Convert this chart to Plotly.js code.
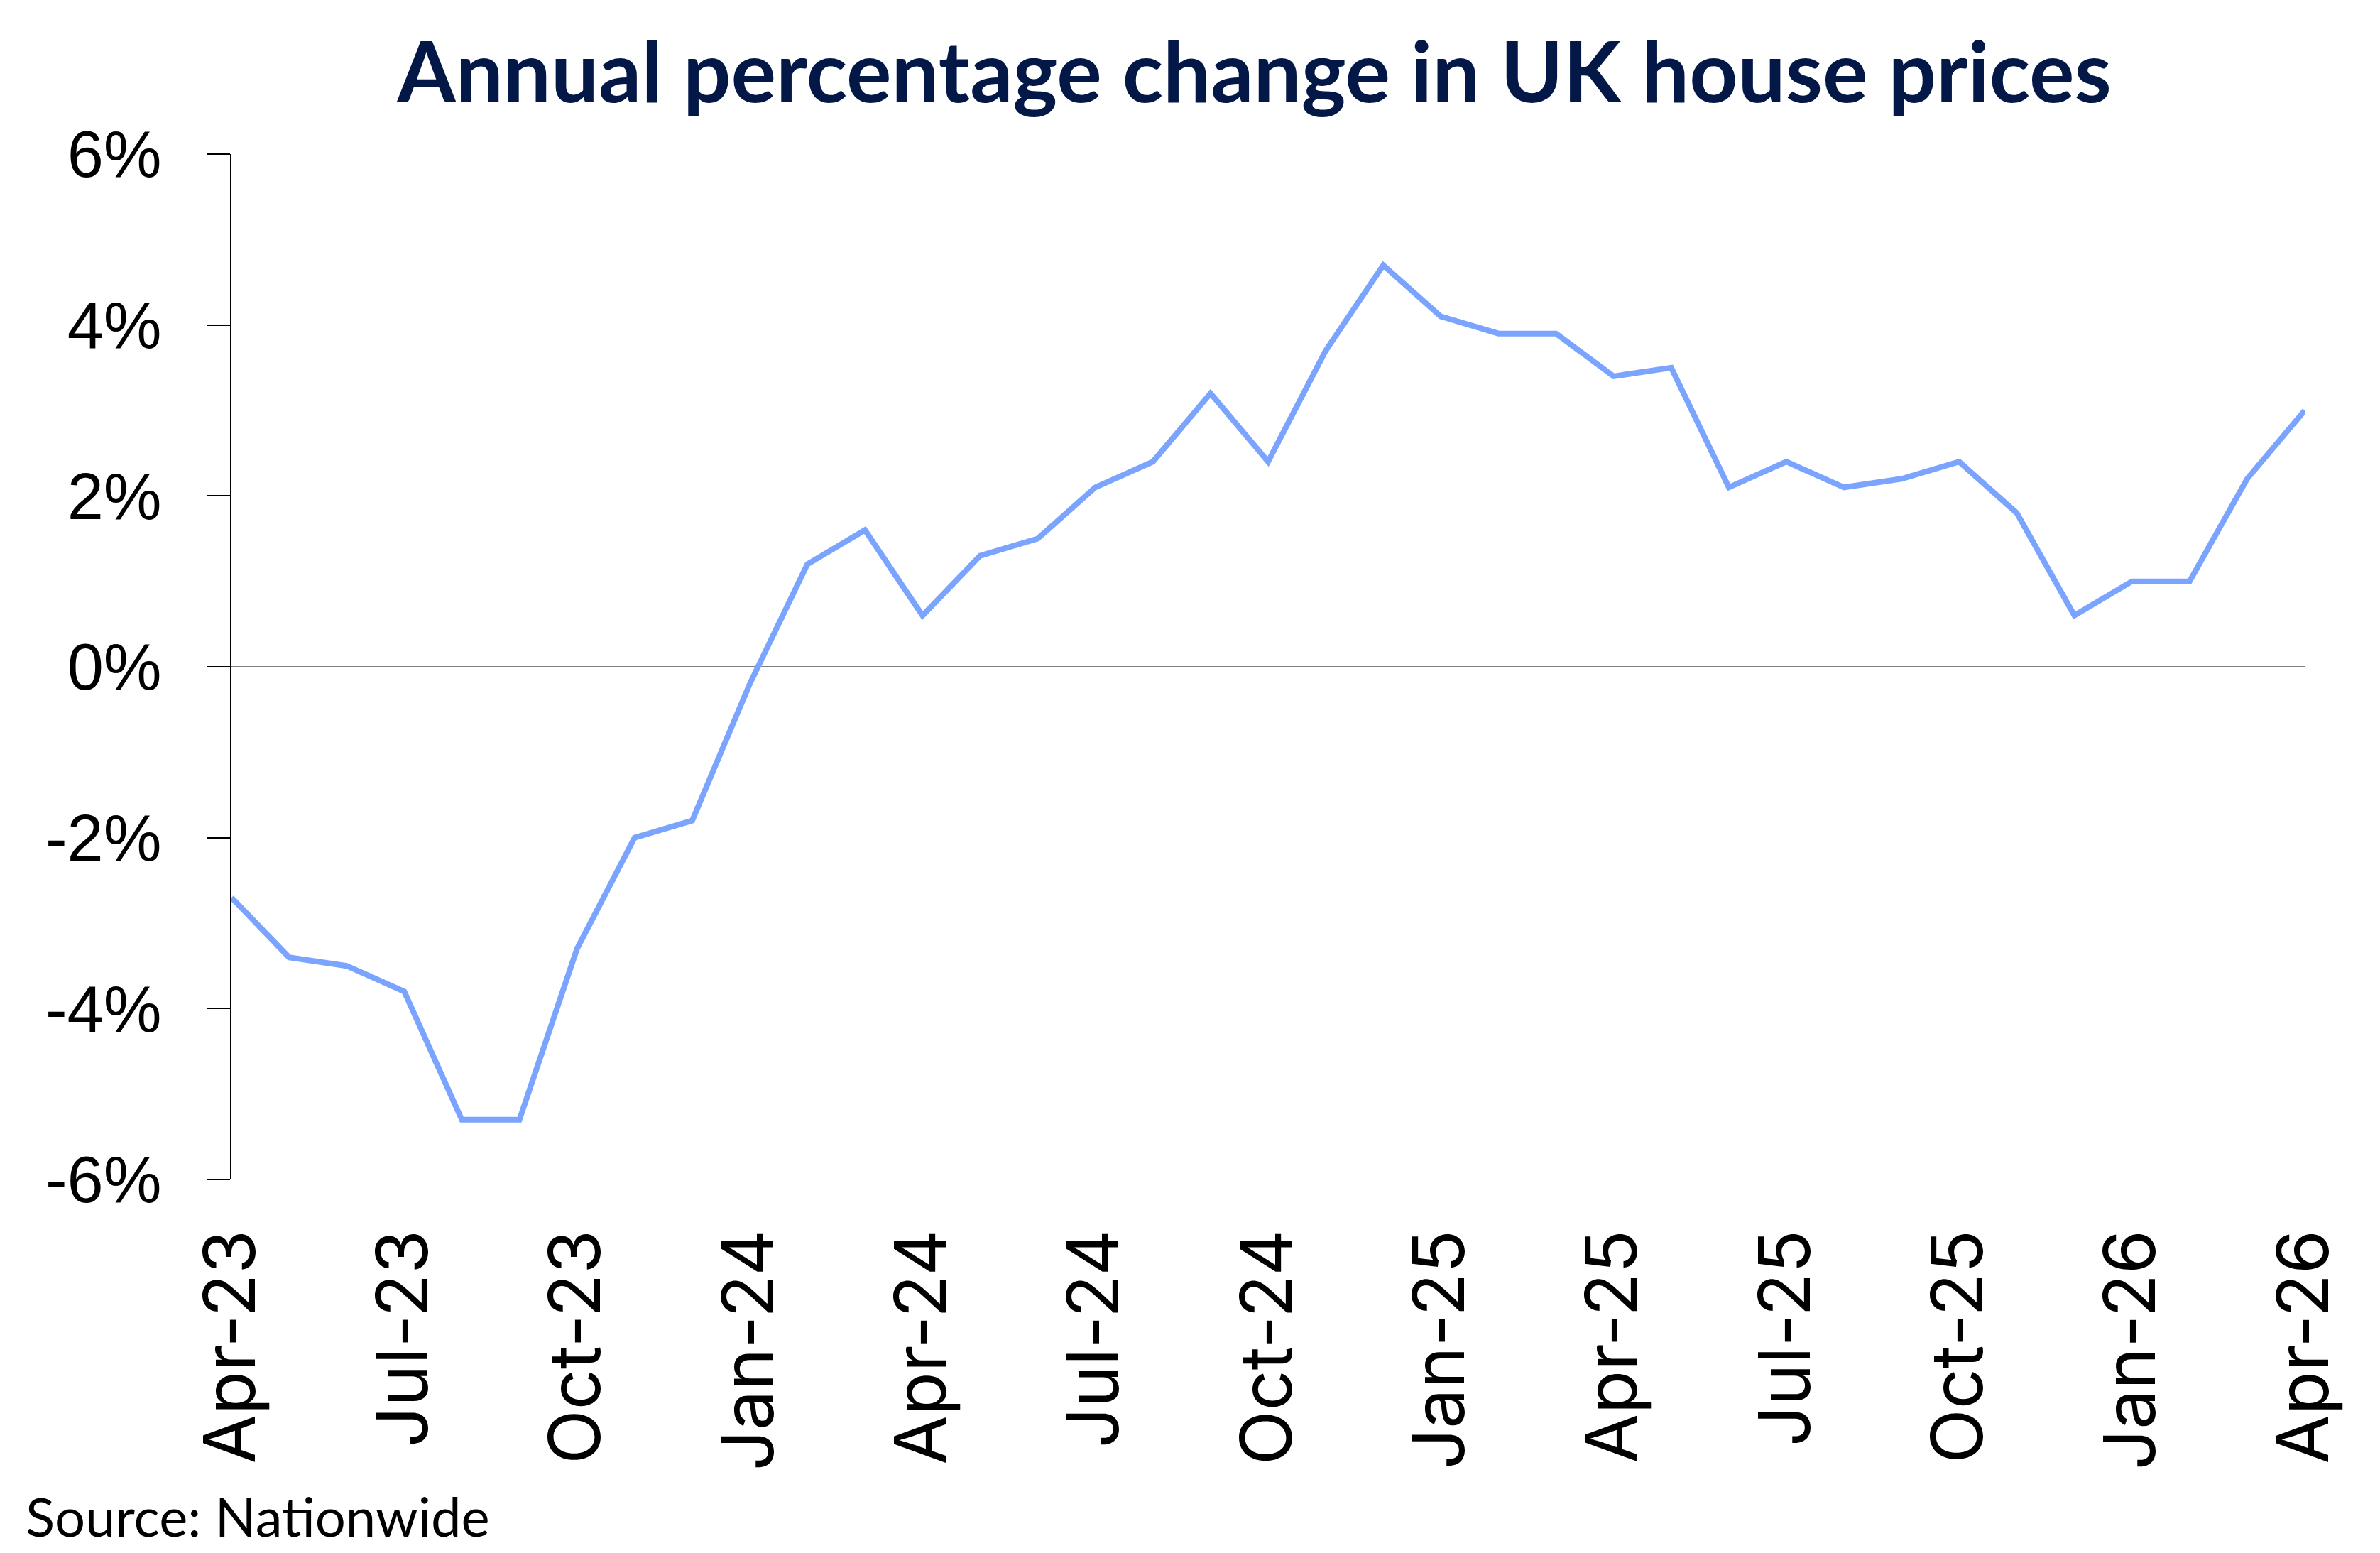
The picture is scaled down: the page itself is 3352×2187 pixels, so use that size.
<!DOCTYPE html>
<html>
<head>
<meta charset="utf-8">
<script src="https://cdn.plot.ly/plotly-3.0.1.min.js"></script>
<style>
  html, body { margin: 0; padding: 0; background: #ffffff; }
  #chart { width: 3352px; height: 2187px; }
</style>
</head>
<body>
<div id="chart"></div>
<script>
// monthly labels, Apr-23 .. Apr-26
const months = [
    'Apr-23', 'May-23', 'Jun-23', 'Jul-23', 'Aug-23', 'Sep-23', 'Oct-23', 'Nov-23', 'Dec-23',
    'Jan-24', 'Feb-24', 'Mar-24', 'Apr-24', 'May-24', 'Jun-24', 'Jul-24', 'Aug-24', 'Sep-24',
    'Oct-24', 'Nov-24', 'Dec-24', 'Jan-25', 'Feb-25', 'Mar-25', 'Apr-25', 'May-25', 'Jun-25',
    'Jul-25', 'Aug-25', 'Sep-25', 'Oct-25', 'Nov-25', 'Dec-25', 'Jan-26', 'Feb-26', 'Mar-26',
    'Apr-26'
]

// annual % change in house prices
const annualChange = [
    -2.7, -3.4, -3.5, -3.8, -5.3, -5.3, -3.3, -2.0, -1.8,
    -0.2, 1.2, 1.6, 0.6, 1.3, 1.5, 2.1, 2.4, 3.2,
    2.4, 3.7, 4.7, 4.1, 3.9, 3.9, 3.4, 3.5, 2.1,
    2.4, 2.1, 2.2, 2.4, 1.8, 0.6, 1.0, 1.0, 2.2,
    3.0
]

// every third month gets a label
const xTickLabels = ['Apr-23', 'Jul-23', 'Oct-23', 'Jan-24', 'Apr-24', 'Jul-24', 'Oct-24',
    'Jan-25', 'Apr-25', 'Jul-25', 'Oct-25', 'Jan-26', 'Apr-26']

const yTickVals = [-6, -4, -2, 0, 2, 4, 6]
const yTickText = ['-6%', '-4%', '-2%', '0%', '2%', '4%', '6%']

const trace = {
    x: months,
    y: annualChange,
    type: 'scatter',
    mode: 'lines',
    line: { color: '#7ba4ff', width: 8 },
    hoverinfo: 'skip'
}

const layout = {
    width: 3352,
    height: 2187,
    paper_bgcolor: '#ffffff',
    plot_bgcolor: '#ffffff',
    margin: { l: 326, r: 106, t: 217, b: 526 },
    showlegend: false,
    title: {
        text: '<b>Annual percentage change in UK house prices</b>',
        font: { family: 'Lato', size: 119, color: '#031847' },
        xref: 'container', x: 0.527, xanchor: 'center',
        yref: 'container', y: 0.953, yanchor: 'middle'
    },
    xaxis: {
        type: 'category',
        range: [0, months.length - 1],
        tickmode: 'array',
        tickvals: xTickLabels,
        ticktext: xTickLabels,
        tickangle: -90,
        tickfont: { family: 'Inter', size: 100, color: '#000000' },
        showgrid: false,
        showline: false,
        zeroline: false,
        ticks: '',
        ticklabelstandoff: 50
    },
    yaxis: {
        range: [-6, 6],
        tickmode: 'array',
        tickvals: yTickVals,
        ticktext: yTickText,
        tickfont: { family: 'Liberation Sans', size: 92, color: '#000000' },
        showgrid: false,
        showline: true,
        linecolor: '#000000',
        linewidth: 2,
        ticks: 'outside',
        ticklen: 32,
        tickwidth: 2,
        tickcolor: '#000000',
        zeroline: true,
        zerolinecolor: '#808080',
        zerolinewidth: 2,
        ticklabelstandoff: 46
    },
    annotations: [{
        text: 'Source: Nationwide',
        xref: 'paper', yref: 'paper',
        x: -0.1, y: -0.328,
        xanchor: 'left', yanchor: 'middle',
        showarrow: false,
        font: { family: 'Lato', size: 76, color: '#000000' }
    }]
}

Plotly.newPlot('chart', [trace], layout, { displayModeBar: false, staticPlot: true })
</script>
</body>
</html>
